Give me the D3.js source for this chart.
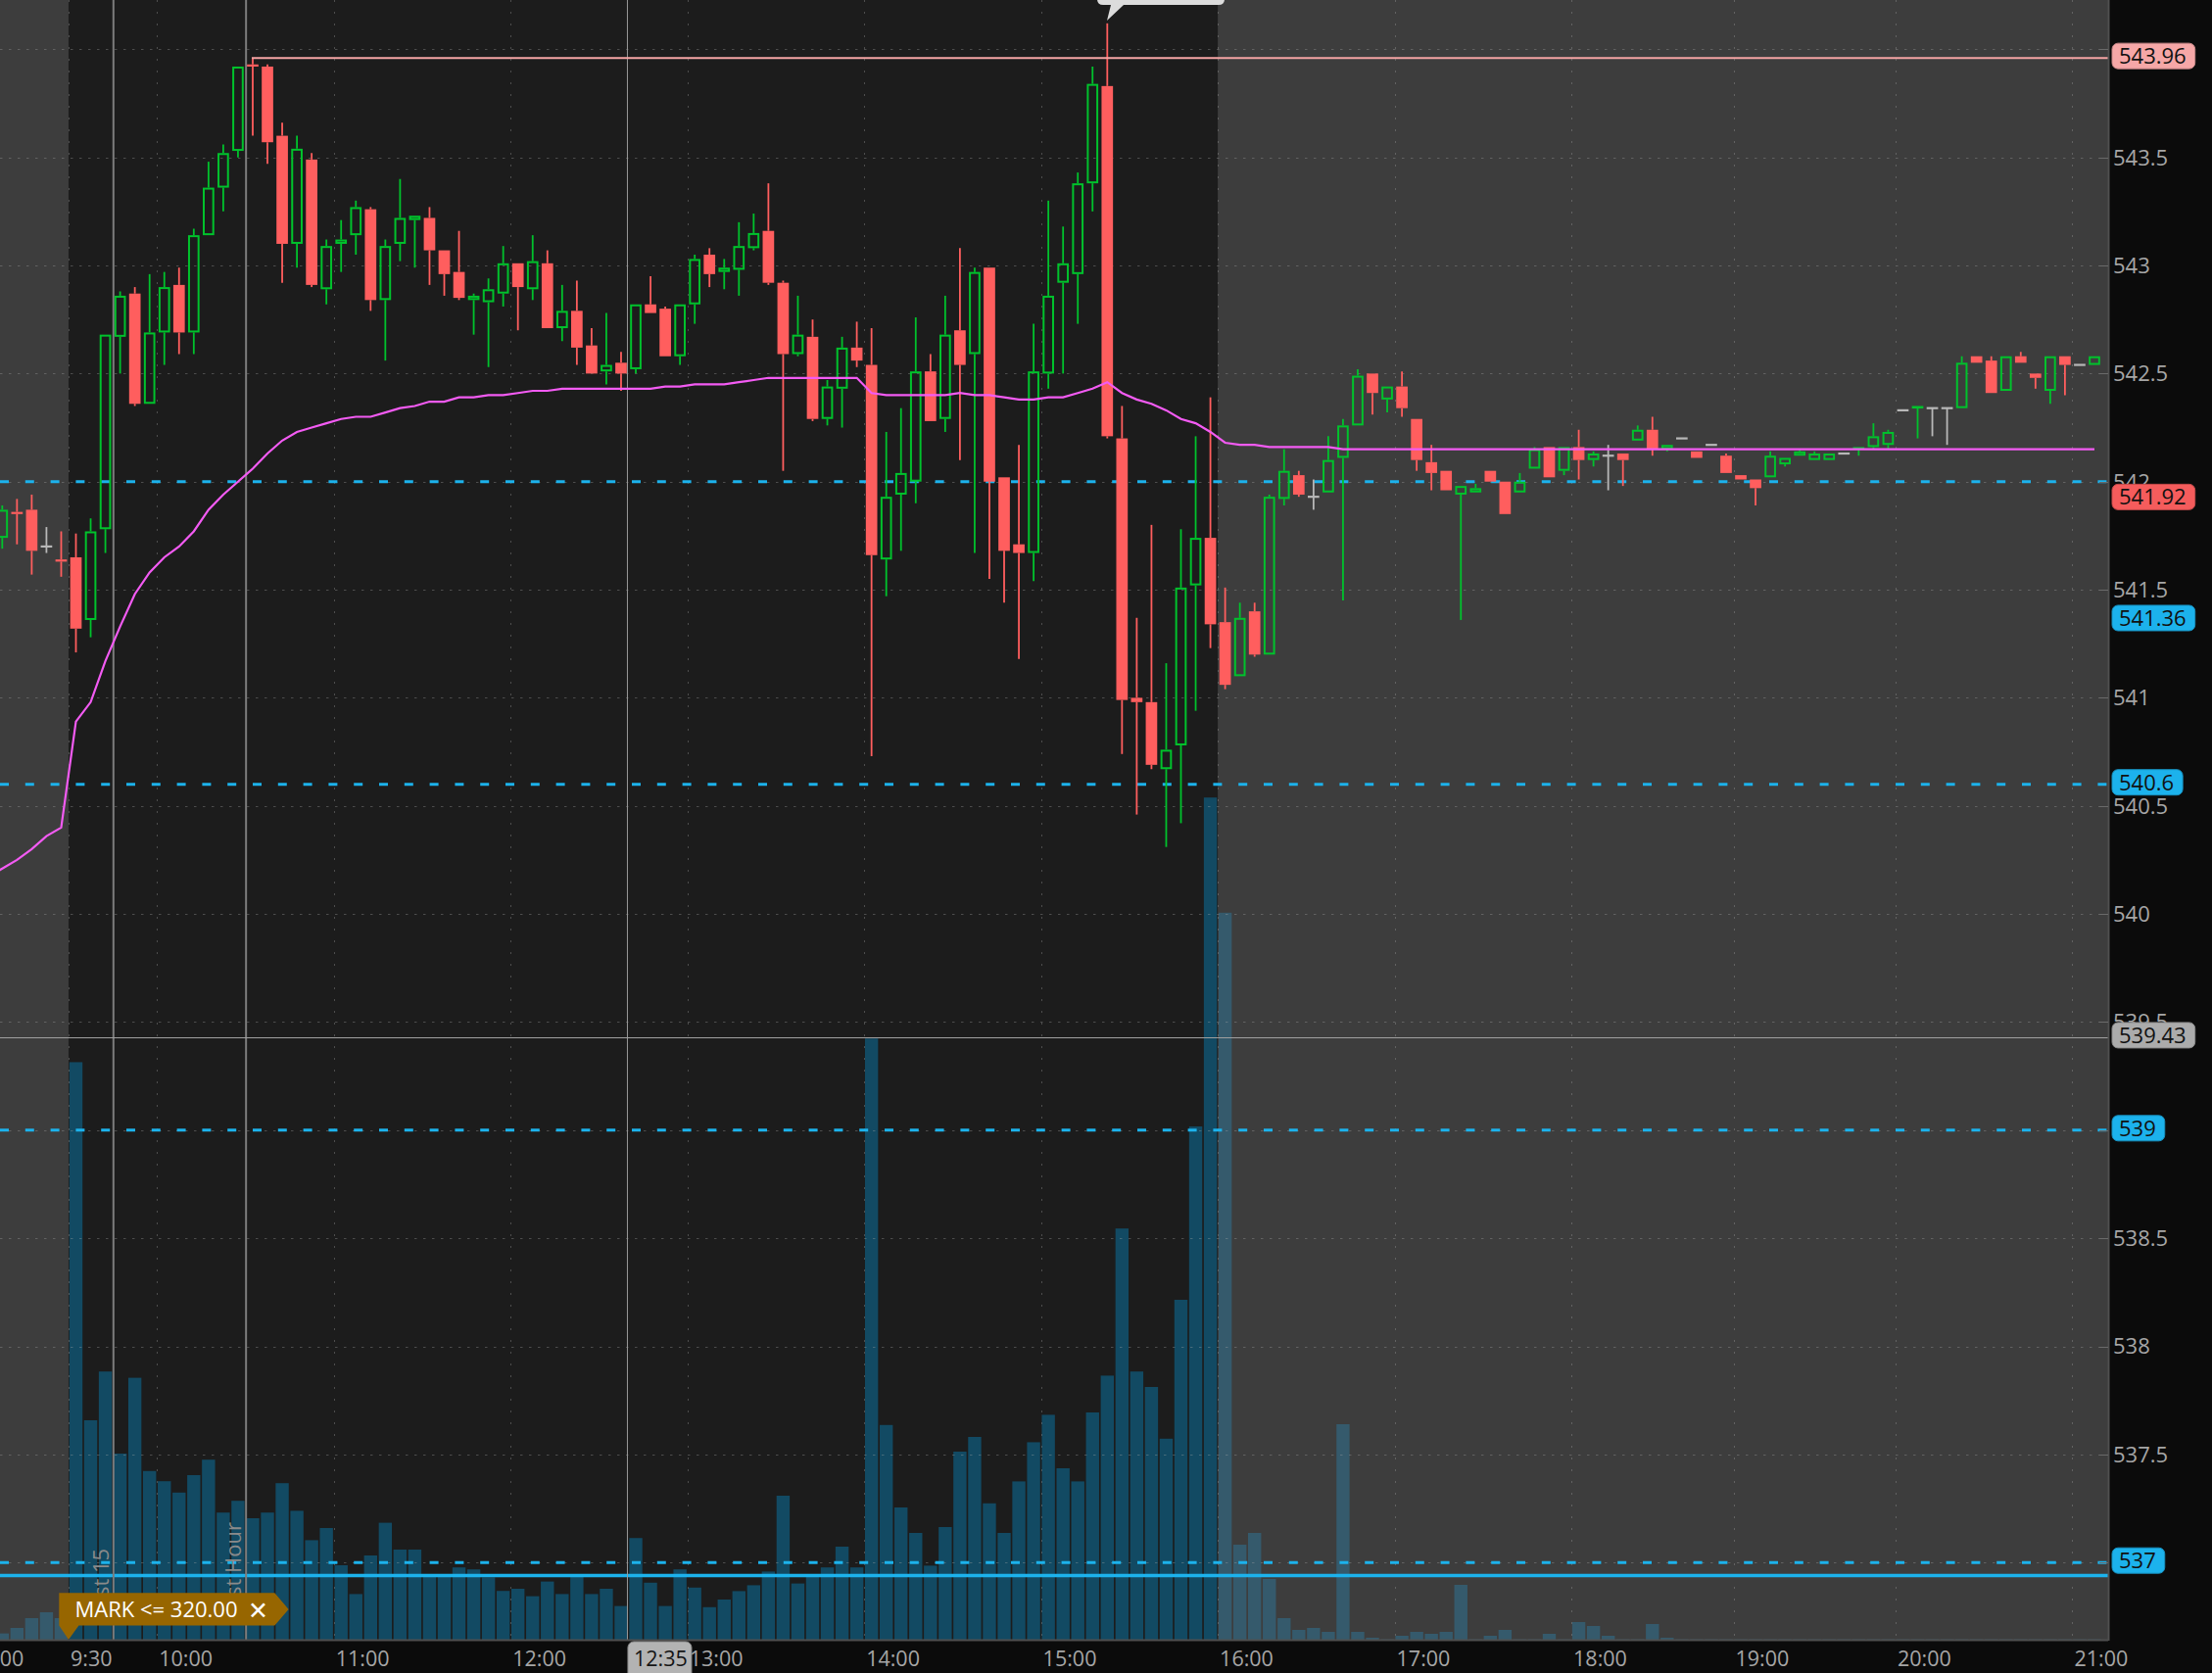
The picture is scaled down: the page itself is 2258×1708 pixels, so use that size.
<!DOCTYPE html>
<html><head><meta charset="utf-8">
<script src="https://cdn.jsdelivr.net/npm/d3@7"></script>
<style>html,body{margin:0;padding:0;background:#0b0b0b;overflow:hidden}svg{display:block}</style>
</head><body><svg id="c" width="2258" height="1708"></svg>
<script>
// ---------------- DATA ----------------
const times = [
"09:00","09:05","09:10","09:15","09:20","09:25",
"09:30","09:35","09:40","09:45","09:50","09:55",
"10:00","10:05","10:10","10:15","10:20","10:25","10:30","10:35","10:40","10:45","10:50","10:55",
"11:00","11:05","11:10","11:15","11:20","11:25","11:30","11:35","11:40","11:45","11:50","11:55",
"12:00","12:05","12:10","12:15","12:20","12:25","12:30","12:35","12:40","12:45","12:50","12:55",
"13:00","13:05","13:10","13:15","13:20","13:25","13:30","13:35","13:40","13:45","13:50","13:55",
"14:00","14:05","14:10","14:15","14:20","14:25","14:30","14:35","14:40","14:45","14:50","14:55",
"15:00","15:05","15:10","15:15","15:20","15:25","15:30","15:35","15:40","15:45","15:50","15:55",
"16:00","16:05","16:10","16:15","16:20","16:25","16:30","16:35","16:40","16:45","16:50","16:55",
"17:00","17:05","17:10","17:15","17:20","17:25","17:30","17:35","17:40","17:45","17:50","17:55",
"18:00","18:05","18:10","18:15","18:20","18:25","18:30","18:35","18:45","18:50","18:55",
"19:00","19:05","19:10","19:15","19:20","19:25","19:30","19:40","19:45","19:50","19:55",
"20:00","20:05","20:10","20:15","20:20","20:25","20:30","20:35","20:40","20:45","20:50","20:55",
"21:00","21:05"];

const opens = [
null,541.74,541.86,541.87,541.70,541.64,
541.65,541.36,541.78,542.67,542.87,542.36,542.69,542.91,542.69,543.14,
543.36,543.53,543.93,543.92,543.60,543.10,543.49,542.89,543.10,543.14,
543.26,542.84,543.10,543.21,543.22,543.07,542.97,542.84,542.83,542.87,
543.01,542.89,543.01,542.71,542.79,542.63,542.51,542.55,542.52,542.82,
542.80,542.58,542.82,543.05,542.97,542.98,543.08,543.16,542.92,542.59,
542.67,542.29,542.43,542.62,542.54,541.64,541.94,542.00,542.51,542.29,
542.70,542.59,542.99,542.02,541.71,541.67,542.50,542.92,542.96,543.38,
543.83,542.20,541.00,540.98,540.67,540.78,541.52,541.74,
541.35,541.10,541.40,541.20,541.92,542.03,541.93,541.95,542.11,542.26,
542.50,542.38,542.44,542.29,542.09,542.05,541.94,541.95,542.05,542.00,
541.95,542.06,542.16,542.05,542.16,542.10,542.12,542.13,542.19,542.24,
542.15,542.20,542.14,542.17,542.12,542.03,542.01,542.02,542.08,542.12,
542.10,542.10,542.13,542.15,542.16,542.17,542.33,542.34,542.34,542.34,
542.34,542.58,542.56,542.42,542.58,542.50,542.42,542.58,542.54,542.54];

const highs = [
null,541.89,541.92,541.94,541.79,541.77,
541.76,541.83,542.68,542.88,542.90,542.96,542.97,542.99,543.17,543.48,
543.56,543.92,543.96,543.93,543.66,543.60,543.52,543.12,543.21,543.30,
543.27,543.12,543.40,543.23,543.27,543.07,543.16,542.87,542.94,543.09,
543.01,543.14,543.07,542.91,542.93,542.71,542.78,542.60,542.82,542.95,
542.81,542.82,543.05,543.08,543.03,543.20,543.24,543.38,542.93,542.86,
542.75,542.47,542.67,542.74,542.71,542.23,542.34,542.76,542.59,542.86,
543.08,542.99,542.99,542.02,542.17,542.73,543.30,543.18,543.43,543.92,
544.12,542.35,541.37,541.80,541.16,541.78,542.21,542.39,
541.51,541.44,541.44,541.94,542.15,542.05,542.01,542.21,542.29,542.52,
542.50,542.44,542.51,542.29,542.17,542.05,541.98,541.99,542.05,542.00,
542.04,542.16,542.16,542.16,542.24,542.14,542.17,542.13,542.26,542.30,
542.17,542.20,542.14,542.17,542.13,542.03,542.01,542.14,542.11,542.15,
542.14,542.13,542.13,542.16,542.27,542.24,542.33,542.35,542.34,542.34,
542.58,542.58,542.58,542.58,542.60,542.50,542.58,542.58,542.54,542.58];

const lows = [
null,541.69,541.71,541.57,541.67,541.56,
541.21,541.28,541.67,542.50,542.35,542.36,542.54,542.59,542.59,543.14,
543.25,543.50,543.60,543.47,542.92,542.99,542.90,542.82,542.97,543.05,
542.79,542.56,543.02,542.99,542.91,542.86,542.84,542.68,542.53,542.81,
542.70,542.84,542.71,542.65,542.54,542.50,542.45,542.42,542.50,542.78,
542.58,542.54,542.73,542.90,542.89,542.86,543.07,542.91,542.05,542.58,
542.28,542.26,542.25,542.53,540.73,541.47,541.68,541.90,542.28,542.23,
542.10,541.67,541.55,541.44,541.18,541.54,542.43,542.50,542.73,543.25,
542.20,540.74,540.46,540.67,540.31,540.42,540.94,541.23,
541.04,541.10,541.19,541.20,541.89,541.93,541.87,541.95,541.45,542.26,
542.31,542.32,542.30,542.05,541.96,541.96,541.36,541.95,542.00,541.85,
541.95,542.06,542.02,542.03,542.01,542.07,541.96,541.98,542.19,542.12,
542.14,542.20,542.11,542.17,542.04,542.01,541.89,542.02,542.07,542.12,
542.10,542.10,542.13,542.12,542.15,542.15,542.33,542.20,542.21,542.17,
542.34,542.55,542.41,542.42,542.55,542.43,542.36,542.40,542.54,542.54];

const closes = [
null,541.87,541.85,541.68,541.70,541.63,
541.32,541.77,542.68,542.86,542.36,542.69,542.90,542.69,543.14,543.36,
543.52,543.92,543.92,543.57,543.10,543.54,542.91,543.09,543.12,543.27,
542.84,543.09,543.22,543.23,543.07,542.96,542.85,542.86,542.89,543.01,
542.90,543.02,542.71,542.79,542.62,542.50,542.54,542.50,542.82,542.78,
542.58,542.82,543.03,542.96,542.99,543.09,543.15,542.92,542.59,542.68,
542.29,542.44,542.62,542.56,541.66,541.93,542.04,542.51,542.28,542.68,
542.54,542.97,542.00,541.68,541.67,542.51,542.86,543.01,543.38,543.84,
542.21,540.99,540.98,540.69,540.76,541.51,541.74,541.34,
541.06,541.37,541.20,541.93,542.05,541.94,541.93,542.10,542.26,542.49,
542.41,542.44,542.34,542.10,542.04,541.96,541.98,541.97,542.00,541.85,
542.00,542.15,542.02,542.16,542.10,542.13,542.12,542.10,542.24,542.15,
542.17,542.20,542.11,542.17,542.04,542.01,541.97,542.12,542.11,542.14,
542.13,542.13,542.13,542.16,542.21,542.23,542.33,542.35,542.34,542.34,
542.55,542.55,542.41,542.58,542.55,542.48,542.58,542.54,542.54,542.58];

// volume in thousands of shares
const volumes = [
null,32,60,110,140,110,
2948,1120,1369,950,1337,861,809,751,840,919,
649,709,620,649,799,658,508,570,380,233,
430,597,460,460,332,332,369,359,318,249,
260,222,297,233,332,233,260,172,519,291,
172,359,266,166,205,248,278,348,735,287,
323,369,475,369,3069,1096,675,545,378,575,
960,1035,696,545,808,1008,1148,875,808,1160,
1348,2099,1369,1290,1026,1735,2620,4299,
3711,485,545,310,110,50,60,40,1100,40,
10,2,20,40,30,40,280,2,20,50,
2,2,30,2,90,70,20,2,2,80,
10,2,2,2,2,2,2,2,2,2,
2,2,2,2,2,2,2,2,2,2,
2,2,2,2,2,2,2,2,2,2];

const vwap = [
540.17,540.21,540.25,540.30,540.36,540.40,
540.89,540.98,541.17,541.33,541.48,541.58,541.65,541.70,541.77,541.87,
541.94,542.00,542.06,542.13,542.19,542.23,542.25,542.27,542.29,542.30,
542.30,542.32,542.34,542.35,542.37,542.37,542.39,542.39,542.40,542.40,
542.41,542.42,542.42,542.43,542.43,542.43,542.43,542.43,542.43,542.43,
542.44,542.44,542.45,542.45,542.45,542.46,542.47,542.48,542.48,542.48,
542.48,542.48,542.48,542.48,542.41,542.40,542.40,542.40,542.40,542.40,
542.41,542.40,542.40,542.39,542.38,542.38,542.39,542.39,542.41,542.43,
542.46,542.41,542.38,542.36,542.33,542.29,542.27,542.23,
542.18,542.17,542.17,542.16,542.16,542.16,542.16,542.16,542.15,542.15,
542.15,542.15,542.15,542.15,542.15,542.15,542.15,542.15,542.15,542.15,
542.15,542.15,542.15,542.15,542.15,542.15,542.15,542.15,542.15,542.15,
542.15,542.15,542.15,542.15,542.15,542.15,542.15,542.15,542.15,542.15,
542.15,542.15,542.15,542.15,542.15,542.15,542.15,542.15,542.15,542.15,
542.15,542.15,542.15,542.15,542.15,542.15,542.15,542.15,542.15,542.15];

const priceTicks = [537,537.5,538,538.5,539,539.5,540,540.5,541,541.5,542,542.5,543,543.5,544];
const priceTickLabels = ["537","537.5","538","538.5","539","539.5","540","540.5","541","541.5","542","542.5","543","543.5","544"];
const timeTicks = ["09:00","09:30","10:00","11:00","12:00","13:00","14:00","15:00","16:00","17:00","18:00","19:00","20:00","21:00"];
const timeTickLabels = ["9:00","9:30","10:00","11:00","12:00","13:00","14:00","15:00","16:00","17:00","18:00","19:00","20:00","21:00"];

const levelLines = [542, 540.6, 539, 537];          // dashed blue price levels
const solidLevel = 536.94;                           // solid blue line
const highLevel = 543.96;                            // pink high-of-day line
const highStart = "10:30";
const bubbles = [
  {v:543.96, t:"543.96", fill:"#f6a7a7"},
  {v:541.92, t:"541.92", fill:"#f55c5c"},
  {v:541.36, t:"541.36", fill:"#1cb2ec"},
  {v:540.6,  t:"540.6",  fill:"#1cb2ec"},
  {v:539.43, t:"539.43", fill:"#ababab"},
  {v:539,    t:"539",    fill:"#1cb2ec"},
  {v:537,    t:"537",    fill:"#1cb2ec"}
];
const events = [{t:"09:45", label:"First 15"}, {t:"10:30", label:"First Hour"}];
const crossTime = "12:35", crossTimeLabel = "12:35", crossPrice = 539.43;
const alertText = "MARK <= 320.00";

// ---------------- CHART ----------------
const W = 2258, H = 1708, plotR = 2152, plotB = 1674;
const FONT = "'Open Sans', 'Noto Sans', sans-serif";
const svg = d3.select('#c');
const step = 15.04;
const x = d3.scaleBand().domain(times).range([-20.26, -20.26 + times.length * step]).padding(0);
const bw = x.bandwidth();
const cx = t => x(t) + bw / 2;
const y = d3.scaleLinear().domain([536.643, 544.228]).range([plotB, 0]);
const yv = d3.scaleLinear().domain([0, 8370]).range([plotB, 0]);
const isExt = t => t < "09:30" || t >= "16:00";

const GREEN = "#00c22c", RED = "#ff5e5e", GRAY = "#b8b8b8", BLUE = "#1cb2ec";

svg.append('rect').attr('width', W).attr('height', H).attr('fill', '#0b0b0b');
svg.append('defs').append('clipPath').attr('id', 'clip')
  .append('rect').attr('x', 0).attr('y', 0).attr('width', plotR).attr('height', plotB);

const plot = svg.append('g').attr('clip-path', 'url(#clip)');
plot.append('rect').attr('x', 0).attr('y', 0).attr('width', plotR).attr('height', plotB).attr('fill', '#3d3d3d');
plot.append('rect').attr('x', x("09:30")).attr('y', 0)
  .attr('width', x("16:00") - x("09:30")).attr('height', plotB).attr('fill', '#1c1c1c');

// volume
plot.append('g').selectAll('rect').data(times.map((t, i) => ({t, v: volumes[i]})).filter(d => d.v != null && d.v > 0))
  .join('rect')
  .attr('x', d => cx(d.t) - 6.7).attr('width', 13.4)
  .attr('y', d => yv(d.v)).attr('height', d => plotB - yv(d.v))
  .attr('fill', d => isExt(d.t) ? '#355a6c' : '#124a63');

// grid
plot.append('g').selectAll('line').data(priceTicks).join('line')
  .attr('x1', 0).attr('x2', plotR).attr('y1', d => Math.round(y(d)) + 0.5).attr('y2', d => Math.round(y(d)) + 0.5)
  .attr('stroke', 'rgba(170,170,170,0.35)').attr('stroke-width', 1).attr('stroke-dasharray', '2.5,6.5');
plot.append('g').selectAll('line').data(timeTicks).join('line')
  .attr('x1', d => Math.round(x(d)) + 0.5).attr('x2', d => Math.round(x(d)) + 0.5).attr('y1', 0).attr('y2', plotB)
  .attr('stroke', 'rgba(170,170,170,0.35)').attr('stroke-width', 1).attr('stroke-dasharray', '2,10');

// price level lines
plot.append('g').selectAll('line').data(levelLines).join('line')
  .attr('x1', 0).attr('x2', plotR).attr('y1', d => y(d)).attr('y2', d => y(d))
  .attr('stroke', BLUE).attr('stroke-width', 3).attr('stroke-dasharray', '9,16.8');
plot.append('line').attr('x1', 0).attr('x2', plotR).attr('y1', y(solidLevel)).attr('y2', y(solidLevel))
  .attr('stroke', BLUE).attr('stroke-width', 3.5);

// event lines
events.forEach(e => {
  const ex = x(e.t) + 0.7;
  plot.append('line').attr('x1', ex).attr('x2', ex).attr('y1', 0).attr('y2', plotB)
    .attr('stroke', '#7c7c7c').attr('stroke-width', 2);
  plot.append('text').attr('transform', `translate(${ex - 5},1656) rotate(-90)`)
    .attr('fill', '#8a8a8a').attr('font-family', FONT).attr('font-size', 22).text(e.label);
});

// crosshair
const chX = x(crossTime) + 14;
plot.append('line').attr('x1', chX).attr('x2', chX).attr('y1', 0).attr('y2', plotB).attr('stroke', '#9a9a9a').attr('stroke-width', 1);
plot.append('line').attr('x1', 0).attr('x2', plotR).attr('y1', Math.round(y(crossPrice)) + 0.5).attr('y2', Math.round(y(crossPrice)) + 0.5)
  .attr('stroke', '#a0a0a0').attr('stroke-width', 1);

// candles
const cg = plot.append('g');
times.forEach((t, i) => {
  const o = opens[i], h = highs[i], l = lows[i], c = closes[i];
  if (o == null) return;
  const col = c > o ? GREEN : (c < o ? RED : GRAY);
  const xc = cx(t);
  const top = y(Math.max(o, c)), bot = y(Math.min(o, c));
  cg.append('line').attr('x1', xc).attr('x2', xc).attr('y1', y(h)).attr('y2', top).attr('stroke', col).attr('stroke-width', 1.8);
  cg.append('line').attr('x1', xc).attr('x2', xc).attr('y1', bot).attr('y2', y(l)).attr('stroke', col).attr('stroke-width', 1.8);
  if (c > o) {
    cg.append('rect').attr('x', xc - 4.85).attr('width', 9.7).attr('y', top + 1).attr('height', Math.max(bot - top - 2, 0.6))
      .attr('fill', 'none').attr('stroke', col).attr('stroke-width', 2);
  } else if (c < o) {
    cg.append('rect').attr('x', xc - 5.85).attr('width', 11.7).attr('y', top).attr('height', Math.max(bot - top, 2))
      .attr('fill', col);
  } else {
    cg.append('line').attr('x1', xc - 5.85).attr('x2', xc + 5.85).attr('y1', top).attr('y2', top).attr('stroke', col).attr('stroke-width', 2.2);
  }
});

// vwap
const vline = d3.line().defined(d => d.v != null).x(d => cx(d.t)).y(d => y(d.v));
plot.append('path').datum(times.map((t, i) => ({t, v: vwap[i]})))
  .attr('d', vline).attr('fill', 'none').attr('stroke', '#f35bf3').attr('stroke-width', 2.2);

// high line
plot.append('line').attr('x1', cx(highStart) - 1).attr('x2', plotR).attr('y1', y(highLevel)).attr('y2', y(highLevel))
  .attr('stroke', '#f4a4a4').attr('stroke-width', 2);

// top callout
plot.append('path').attr('d', 'M1126,-20 L1244,-20 Q1250,-20 1250,-14 L1250,-1 Q1250,5 1244,5 L1147,5 L1130,21 L1134,5 L1126,5 Q1120,5 1120,-1 L1120,-14 Q1120,-20 1126,-20 Z')
  .attr('fill', '#dcdcdc');

// alert flag
const fg = svg.append('g');
fg.append('path').attr('d', 'M60.3,1626.3 L280.4,1626.3 L294.6,1642.9 L280.4,1659.5 L80.4,1659.5 L70,1674 L60.3,1659.5 Z')
  .attr('fill', '#976600');
fg.append('text').attr('x', 76.5).attr('y', 1642.9).attr('dy', '0.35em').attr('fill', '#ffffff')
  .attr('font-family', FONT).attr('font-size', 22).text(alertText);
fg.append('text').attr('x', 263.4).attr('y', 1643.5).attr('dy', '0.36em').attr('text-anchor', 'middle').attr('fill', '#ffffff')
  .attr('font-family', "'DejaVu Sans', sans-serif").attr('font-weight', 'bold').attr('font-size', 25).text('✕');

// borders
svg.append('line').attr('x1', 0).attr('x2', plotR).attr('y1', plotB + 0.5).attr('y2', plotB + 0.5).attr('stroke', '#4f4f4f').attr('stroke-width', 2);
svg.append('line').attr('x1', plotR + 0.5).attr('x2', plotR + 0.5).attr('y1', 0).attr('y2', plotB + 1).attr('stroke', '#4f4f4f').attr('stroke-width', 2);

// right axis (labels fully covered by a bubble are not drawn, as in the original)
const covered = v => bubbles.some(b => Math.abs(y(b.v) - 2 - y(v)) < 8);
const ya = svg.append('g');
ya.selectAll('line').data(priceTicks).join('line')
  .attr('x1', plotR - 9).attr('x2', plotR).attr('y1', d => Math.round(y(d)) + 0.5).attr('y2', d => Math.round(y(d)) + 0.5)
  .attr('stroke', '#6a6a6a').attr('stroke-width', 1);
ya.selectAll('text').data(priceTicks.map((v, i) => ({v, t: priceTickLabels[i]})).filter(d => !covered(d.v))).join('text')
  .attr('x', 2157).attr('y', d => y(d.v)).attr('dy', '0.36em')
  .attr('fill', '#a6a6a6').attr('font-family', FONT).attr('font-size', 22)
  .text(d => d.t);

// bottom axis
const xa = svg.append('g');
xa.selectAll('text').data(timeTicks).join('text')
  .attr('x', d => x(d) + 2).attr('y', 1693).attr('dy', '0.36em')
  .attr('fill', '#a6a6a6').attr('font-family', FONT).attr('font-size', 21.5)
  .text((d, i) => timeTickLabels[i]);

// crosshair time label
const ctg = svg.append('g');
ctg.append('rect').attr('x', chX + 0.5).attr('y', 1676).attr('width', 65).attr('height', 40).attr('rx', 6).attr('fill', '#b3b3b3').attr('stroke', '#8a8a8a');
ctg.append('text').attr('x', chX + 6.5).attr('y', 1693).attr('dy', '0.36em').attr('fill', '#151515')
  .attr('font-family', FONT).attr('font-size', 21.5).text(crossTimeLabel);

// price bubbles
bubbles.forEach(b => {
  const g = svg.append('g');
  const cy = y(b.v) - 2;
  const tx = g.append('text').attr('x', 2163).attr('y', cy).attr('dy', '0.36em').attr('fill', '#111')
    .attr('font-family', FONT).attr('font-size', 22).text(b.t);
  const tw = tx.node().getComputedTextLength();
  g.insert('rect', 'text').attr('x', 2156).attr('y', cy - 13).attr('width', tw + 16).attr('height', 26).attr('rx', 6)
    .attr('fill', b.fill).attr('stroke', d3.color(b.fill).darker(0.6)).attr('stroke-width', 1);
});
</script>
</body></html>
